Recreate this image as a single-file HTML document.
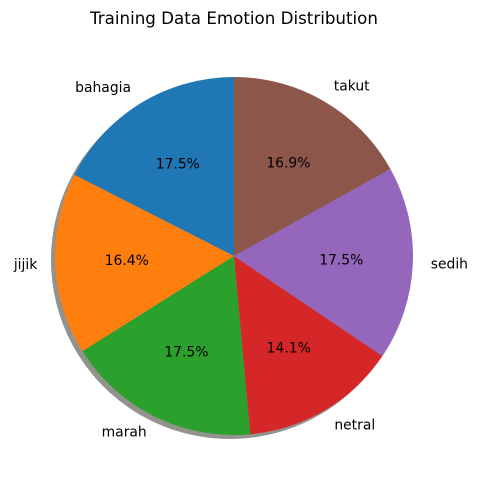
<!DOCTYPE html>
<html>
<head>
<meta charset="utf-8">
<style>
html,body{margin:0;padding:0;background:#fff;}
svg{display:block;font-family:"DejaVu Sans","Liberation Sans",sans-serif;}
</style>
</head>
<body>
<svg id="chart" width="477" height="490" viewBox="0 0 477 490">
<text x="234" y="24" text-anchor="middle" font-size="16.7" fill="#000">Training Data Emotion Distribution</text>
<g id="shadows"></g>
<g id="slices"></g>
<g id="labels"></g>
</svg>
<script>
const categories = ["bahagia","jijik","marah","netral","sedih","takut"];
const values = [17.5,16.4,17.5,14.1,17.5,16.9];
const colors = ["#1f77b4","#ff7f0e","#2ca02c","#d62728","#9467bd","#8c564b"];
const cx = 234, cy = 256, r = 179;
const NS = "http://www.w3.org/2000/svg";
const total = values.reduce((a,b)=>a+b,0);
const pt = (a, rr, ox=0, oy=0) => [cx + ox + rr*Math.cos(a), cy + oy - rr*Math.sin(a)];
function arcPath(a0,a1,ox,oy){
  const p0 = pt(a0,r,ox,oy), p1 = pt(a1,r,ox,oy);
  const large = (a1-a0) > Math.PI ? 1 : 0;
  return `M${cx+ox},${cy+oy} L${p0[0]},${p0[1]} A${r},${r} 0 ${large} 0 ${p1[0]},${p1[1]} Z`;
}
const sh = document.getElementById('shadows');
const sl = document.getElementById('slices');
const lb = document.getElementById('labels');
let a = Math.PI/2;
values.forEach((v,i)=>{
  const da = v/total*2*Math.PI;
  const a0 = a, a1 = a + da, mid = (a0+a1)/2;
  const s = document.createElementNS(NS,'path');
  s.setAttribute('d', arcPath(a0,a1,-4,4));
  s.setAttribute('fill', 'rgba(40,40,30,0.5)');
  
  
  sh.appendChild(s);
  const p = document.createElementNS(NS,'path');
  p.setAttribute('d', arcPath(a0,a1,0,0));
  p.setAttribute('fill', colors[i]);
  
  
  sl.appendChild(p);
  const lp = pt(mid, r*1.1);
  const t = document.createElementNS(NS,'text');
  t.setAttribute('x', lp[0]); t.setAttribute('y', lp[1]+4);
  t.setAttribute('font-size','13.9');
  t.setAttribute('text-anchor', Math.cos(mid) < -0.01 ? 'end' : (Math.cos(mid) > 0.01 ? 'start' : 'middle'));
  t.textContent = categories[i];
  
  
  lb.appendChild(t);
  const pp = pt(mid, r*0.6);
  const q = document.createElementNS(NS,'text');
  q.setAttribute('x', pp[0]); q.setAttribute('y', pp[1]+4);
  q.setAttribute('font-size','13.9');
  q.setAttribute('text-anchor','middle');
  q.textContent = v.toFixed(1) + '%';
  
  
  lb.appendChild(q);
  a = a1;
});
</script>
</body>
</html>
